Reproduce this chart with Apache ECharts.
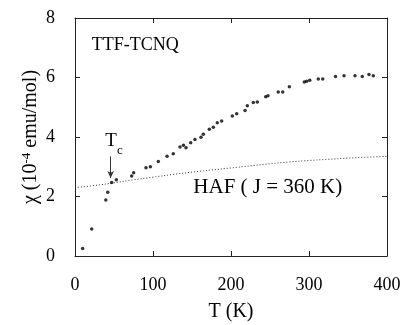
<!DOCTYPE html>
<html>
<head>
<meta charset="utf-8">
<script src="https://cdn.jsdelivr.net/npm/echarts@6/dist/echarts.min.js"></script>
<style>
  html, body { margin: 0; padding: 0; background: #fff; }
  #chart { width: 406px; height: 325px; }
</style>
</head>
<body>
<div id="chart"></div>
<script>
// measured chi(T) points, T in K, chi in 1e-4 emu/mol
var tempK = [9.8, 21.4, 39.5, 42, 47, 53, 72.6, 75.2, 91, 96.6, 106.8, 118, 126, 134.6, 139, 142.3,
  148.3, 153.8, 161.5, 164.5, 172.2, 177.3, 182.4, 188, 201.7, 207.3, 218, 220.9, 228.6, 233.7,
  244.5, 247.4, 260.6, 266.3, 274.8, 294, 297, 301, 311.9, 317.6, 334, 344.9, 359, 368.3, 376.9, 382.4];
var chi = [0.25, 0.91, 1.88, 2.14, 2.47, 2.56, 2.69, 2.8, 2.97, 3.0, 3.18, 3.35, 3.44, 3.66, 3.72, 3.64,
  3.81, 3.92, 3.99, 4.09, 4.26, 4.33, 4.48, 4.54, 4.71, 4.78, 4.89, 5.05, 5.16, 5.18,
  5.35, 5.39, 5.51, 5.51, 5.69, 5.85, 5.87, 5.91, 5.95, 5.95, 6.03, 6.06, 6.06, 6.03, 6.1, 6.06];

// HAF (J = 360 K) curve
var hafT = [0, 25, 50, 75, 100, 125, 150, 175, 200, 225, 250, 275, 300, 325, 350, 375, 400];
var hafChi = [2.3, 2.37, 2.46, 2.56, 2.65, 2.74, 2.82, 2.89, 2.96, 3.03, 3.1, 3.16, 3.21, 3.25, 3.29, 3.32, 3.35];

var xTicks = [0, 100, 200, 300, 400];
var yTicks = [0, 2, 4, 6, 8];
var tcT = 45.7;
var tcArrow = [3.35, 2.62];

var font = 'Liberation Serif, Times New Roman, serif';
var axisColor = '#222';

var chart = echarts.init(document.getElementById('chart'));

var pts = tempK.map(function (t, i) { return [t, chi[i]]; });
var haf = hafT.map(function (t, i) { return [t, hafChi[i]]; });

function xAxisCfg(pos, showLabel) {
  return {
    type: 'value', position: pos, min: xTicks[0], max: xTicks[xTicks.length - 1], interval: 100,
    axisLine: { show: true, onZero: false, lineStyle: { color: axisColor, width: 1 } },
    axisTick: { show: true, inside: true, length: 5, lineStyle: { color: axisColor } },
    axisLabel: { show: showLabel, color: '#000', fontFamily: font, fontSize: 18, margin: 20 },
    splitLine: { show: false }
  };
}
function yAxisCfg(pos, showLabel) {
  return {
    type: 'value', position: pos, min: yTicks[0], max: yTicks[yTicks.length - 1], interval: 2,
    axisLine: { show: true, onZero: false, lineStyle: { color: axisColor, width: 1 } },
    axisTick: { show: true, inside: true, length: 5, lineStyle: { color: axisColor } },
    axisLabel: { show: showLabel, color: '#000', fontFamily: font, fontSize: 18, margin: 20 },
    splitLine: { show: false }
  };
}

var xb = xAxisCfg('bottom', true);
xb.name = 'T (K)';
xb.nameLocation = 'middle';
xb.nameGap = 46;
xb.nameTextStyle = { color: '#000', fontFamily: font, fontSize: 20 };

var yl = yAxisCfg('left', true);
yl.name = '{a|χ (10}{s|-4}{a| emu/mol)}';
yl.nameLocation = 'middle';
yl.nameGap = 33;
yl.nameMoveOverlap = false;
yl.nameTextStyle = {
  color: '#000', fontFamily: font, fontSize: 20,
  rich: {
    a: { fontFamily: font, fontSize: 20, lineHeight: 22, color: '#000' },
    s: { fontFamily: font, fontSize: 13, lineHeight: 22, verticalAlign: 'top', color: '#000' }
  }
};

chart.setOption({
  animation: false,
  backgroundColor: '#fff',
  grid: { left: 75, right: 19, top: 18, bottom: 69, containLabel: false, outerBoundsMode: 'none' },
  xAxis: [xb, xAxisCfg('top', false)],
  yAxis: [yl, yAxisCfg('right', false)],
  series: [
    {
      type: 'line',
      data: haf,
      smooth: true,
      showSymbol: false,
      lineStyle: { color: '#333', width: 1, type: [1, 2] },
      z: 1
    },
    {
      type: 'scatter',
      data: pts,
      symbol: 'circle',
      symbolSize: 3.5,
      itemStyle: { color: '#000' },
      z: 3,
      markLine: {
        silent: true,
        symbol: ['none', 'arrow'],
        symbolSize: [5, 7],
        label: { show: false },
        lineStyle: { color: '#333', width: 1, type: 'solid' },
        data: [[{ coord: [tcT, tcArrow[0]] }, { coord: [tcT, tcArrow[1]] }]]
      }
    }
  ]
});

function at(x, y) { return chart.convertToPixel({ gridIndex: 0 }, [x, y]); }
var pTitle = at(21.4, 7.08);
var pHaf = at(151.7, 2.29);
var pT = at(46.2, 3.85);
var pC = at(57.7, 3.53);

chart.setOption({
  graphic: [
    { type: 'text', x: pTitle[0], y: pTitle[1], style: { text: 'TTF-TCNQ', font: '18px ' + font, fill: '#000', verticalAlign: 'middle', align: 'left' } },
    { type: 'text', x: pHaf[0], y: pHaf[1], style: { text: 'HAF ( J = 360 K)', font: '21px ' + font, fill: '#000', verticalAlign: 'middle', align: 'left' } },
    { type: 'text', x: pT[0], y: pT[1], style: { text: 'T', font: '19px ' + font, fill: '#000', verticalAlign: 'middle', align: 'center' } },
    { type: 'text', x: pC[0], y: pC[1], style: { text: 'c', font: '13px ' + font, fill: '#000', verticalAlign: 'middle', align: 'center' } }
  ]
});
</script>
</body>
</html>
